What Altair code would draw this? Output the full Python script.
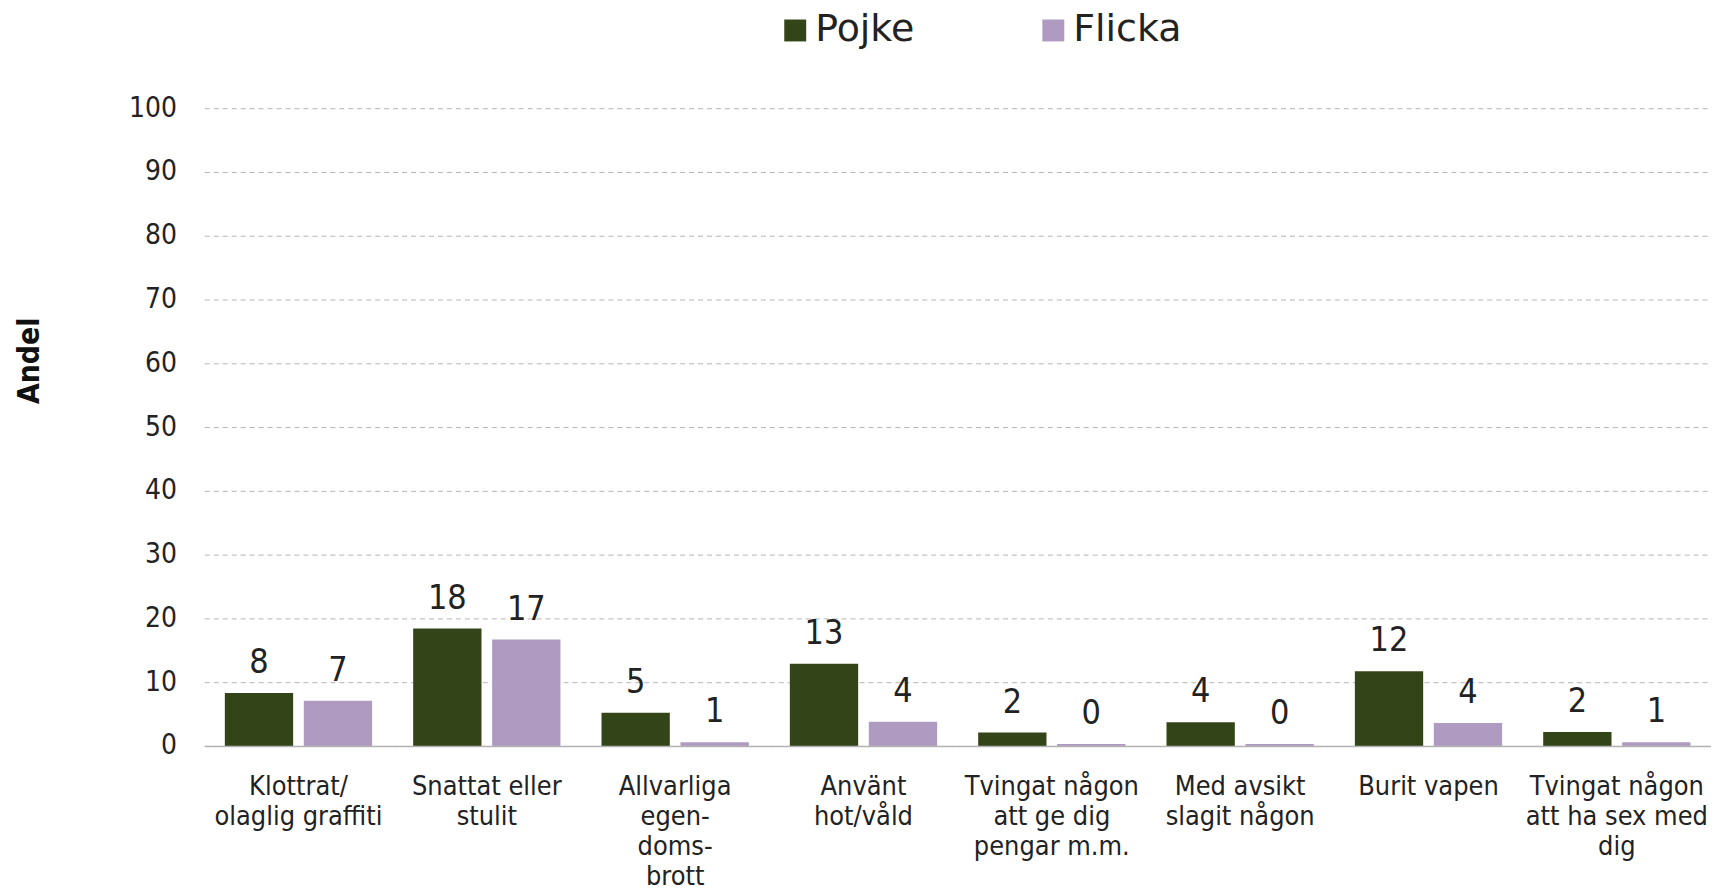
import altair as alt
import pandas as pd

# ---- data ----
categories = [
    "Klottrat/|olaglig graffiti",
    "Snattat eller|stulit",
    "Allvarliga|egen-|doms-|brott",
    "Använt|hot/våld",
    "Tvingat någon|att ge dig|pengar m.m.",
    "Med avsikt|slagit någon",
    "Burit vapen",
    "Tvingat någon|att ha sex med|dig",
]
groups = ["Pojke", "Flicka"]
pojke = [8.3, 18.4, 5.2, 12.9, 2.1, 3.7, 11.7, 2.2]
flicka = [7.1, 16.7, 0.6, 3.8, 0.3, 0.3, 3.6, 0.6]
colors = ["#344419", "#af9bc2"]
y_ticks = [0, 10, 20, 30, 40, 50, 60, 70, 80, 90, 100]

rows = []
for c, p, f in zip(categories, pojke, flicka):
    rows.append({"cat": c, "kon": "Pojke", "andel": p})
    rows.append({"cat": c, "kon": "Flicka", "andel": f})
df = pd.DataFrame(rows)

FONT = "DejaVu Sans Condensed, Liberation Sans, sans-serif"
LFONT = "DejaVu Sans, sans-serif"
TXT = "#222222"

x = alt.X(
    "cat:N",
    sort=categories,
    scale=alt.Scale(paddingInner=0.218, paddingOuter=0.109),
    axis=alt.Axis(
        title=None,
        labelExpr="split(datum.label, '|')",
        labelAngle=0,
        ticks=False,
        domain=True,
        domainColor="#b3b3b3",
        domainWidth=1.5,
        labelFontSize=27,
        labelLineHeight=30,
        labelPadding=28,
        labelLimit=400,
        labelColor=TXT,
        labelFont=FONT,
        labelOverlap=False,
        zindex=1,
    ),
)
xo = alt.XOffset(
    "kon:N", sort=groups, scale=alt.Scale(paddingInner=0.135, paddingOuter=0)
)
y = alt.Y(
    "andel:Q",
    scale=alt.Scale(domain=[0, 100], nice=False),
    axis=alt.Axis(
        values=y_ticks,
        title="Andel",
        grid=True,
        gridDash=[5, 4],
        gridColor="#b5b5b5",
        gridWidth=1,
        domain=False,
        ticks=False,
        labelPadding=28,
        labelFontSize=28,
        labelColor=TXT,
        labelFont=FONT,
        titleFont=FONT,
        titleFontSize=30,
        titleFontWeight="bold",
        titleColor="#111111",
        titleAngle=270,
        titleAlign="center",
        titleBaseline="middle",
        titleX=-175,
        titleY=253,
    ),
)

base = alt.Chart(df)

bars = base.mark_bar().encode(
    x=x,
    xOffset=xo,
    y=y,
    color=alt.Color(
        "kon:N",
        scale=alt.Scale(domain=groups, range=colors),
        legend=alt.Legend(
            title=None,
            orient="none",
            legendX=574,
            legendY=-97,
            direction="horizontal",
            symbolType="square",
            symbolSize=484,
            symbolStrokeWidth=0,
            labelFontSize=38,
            labelOffset=1,
            columnPadding=120,
            labelFont=LFONT,
            labelColor=TXT,
        ),
    ),
)

labels = base.mark_text(
    dy=-20, baseline="alphabetic", fontSize=34, font=FONT, color=TXT
).encode(
    x=x,
    xOffset=xo,
    y=y,
    text=alt.Text("andel:Q", format=".0f"),
)

chart = (
    alt.layer(bars, labels)
    .properties(
        width=1512,
        height=640,
        autosize=alt.AutoSizeParams(type="none"),
        padding={"left": 197, "top": 99, "right": 0, "bottom": 142},
    )
    .configure_view(stroke=None)
)

chart.save("out.html", embed_options={"renderer": "svg", "actions": False})
